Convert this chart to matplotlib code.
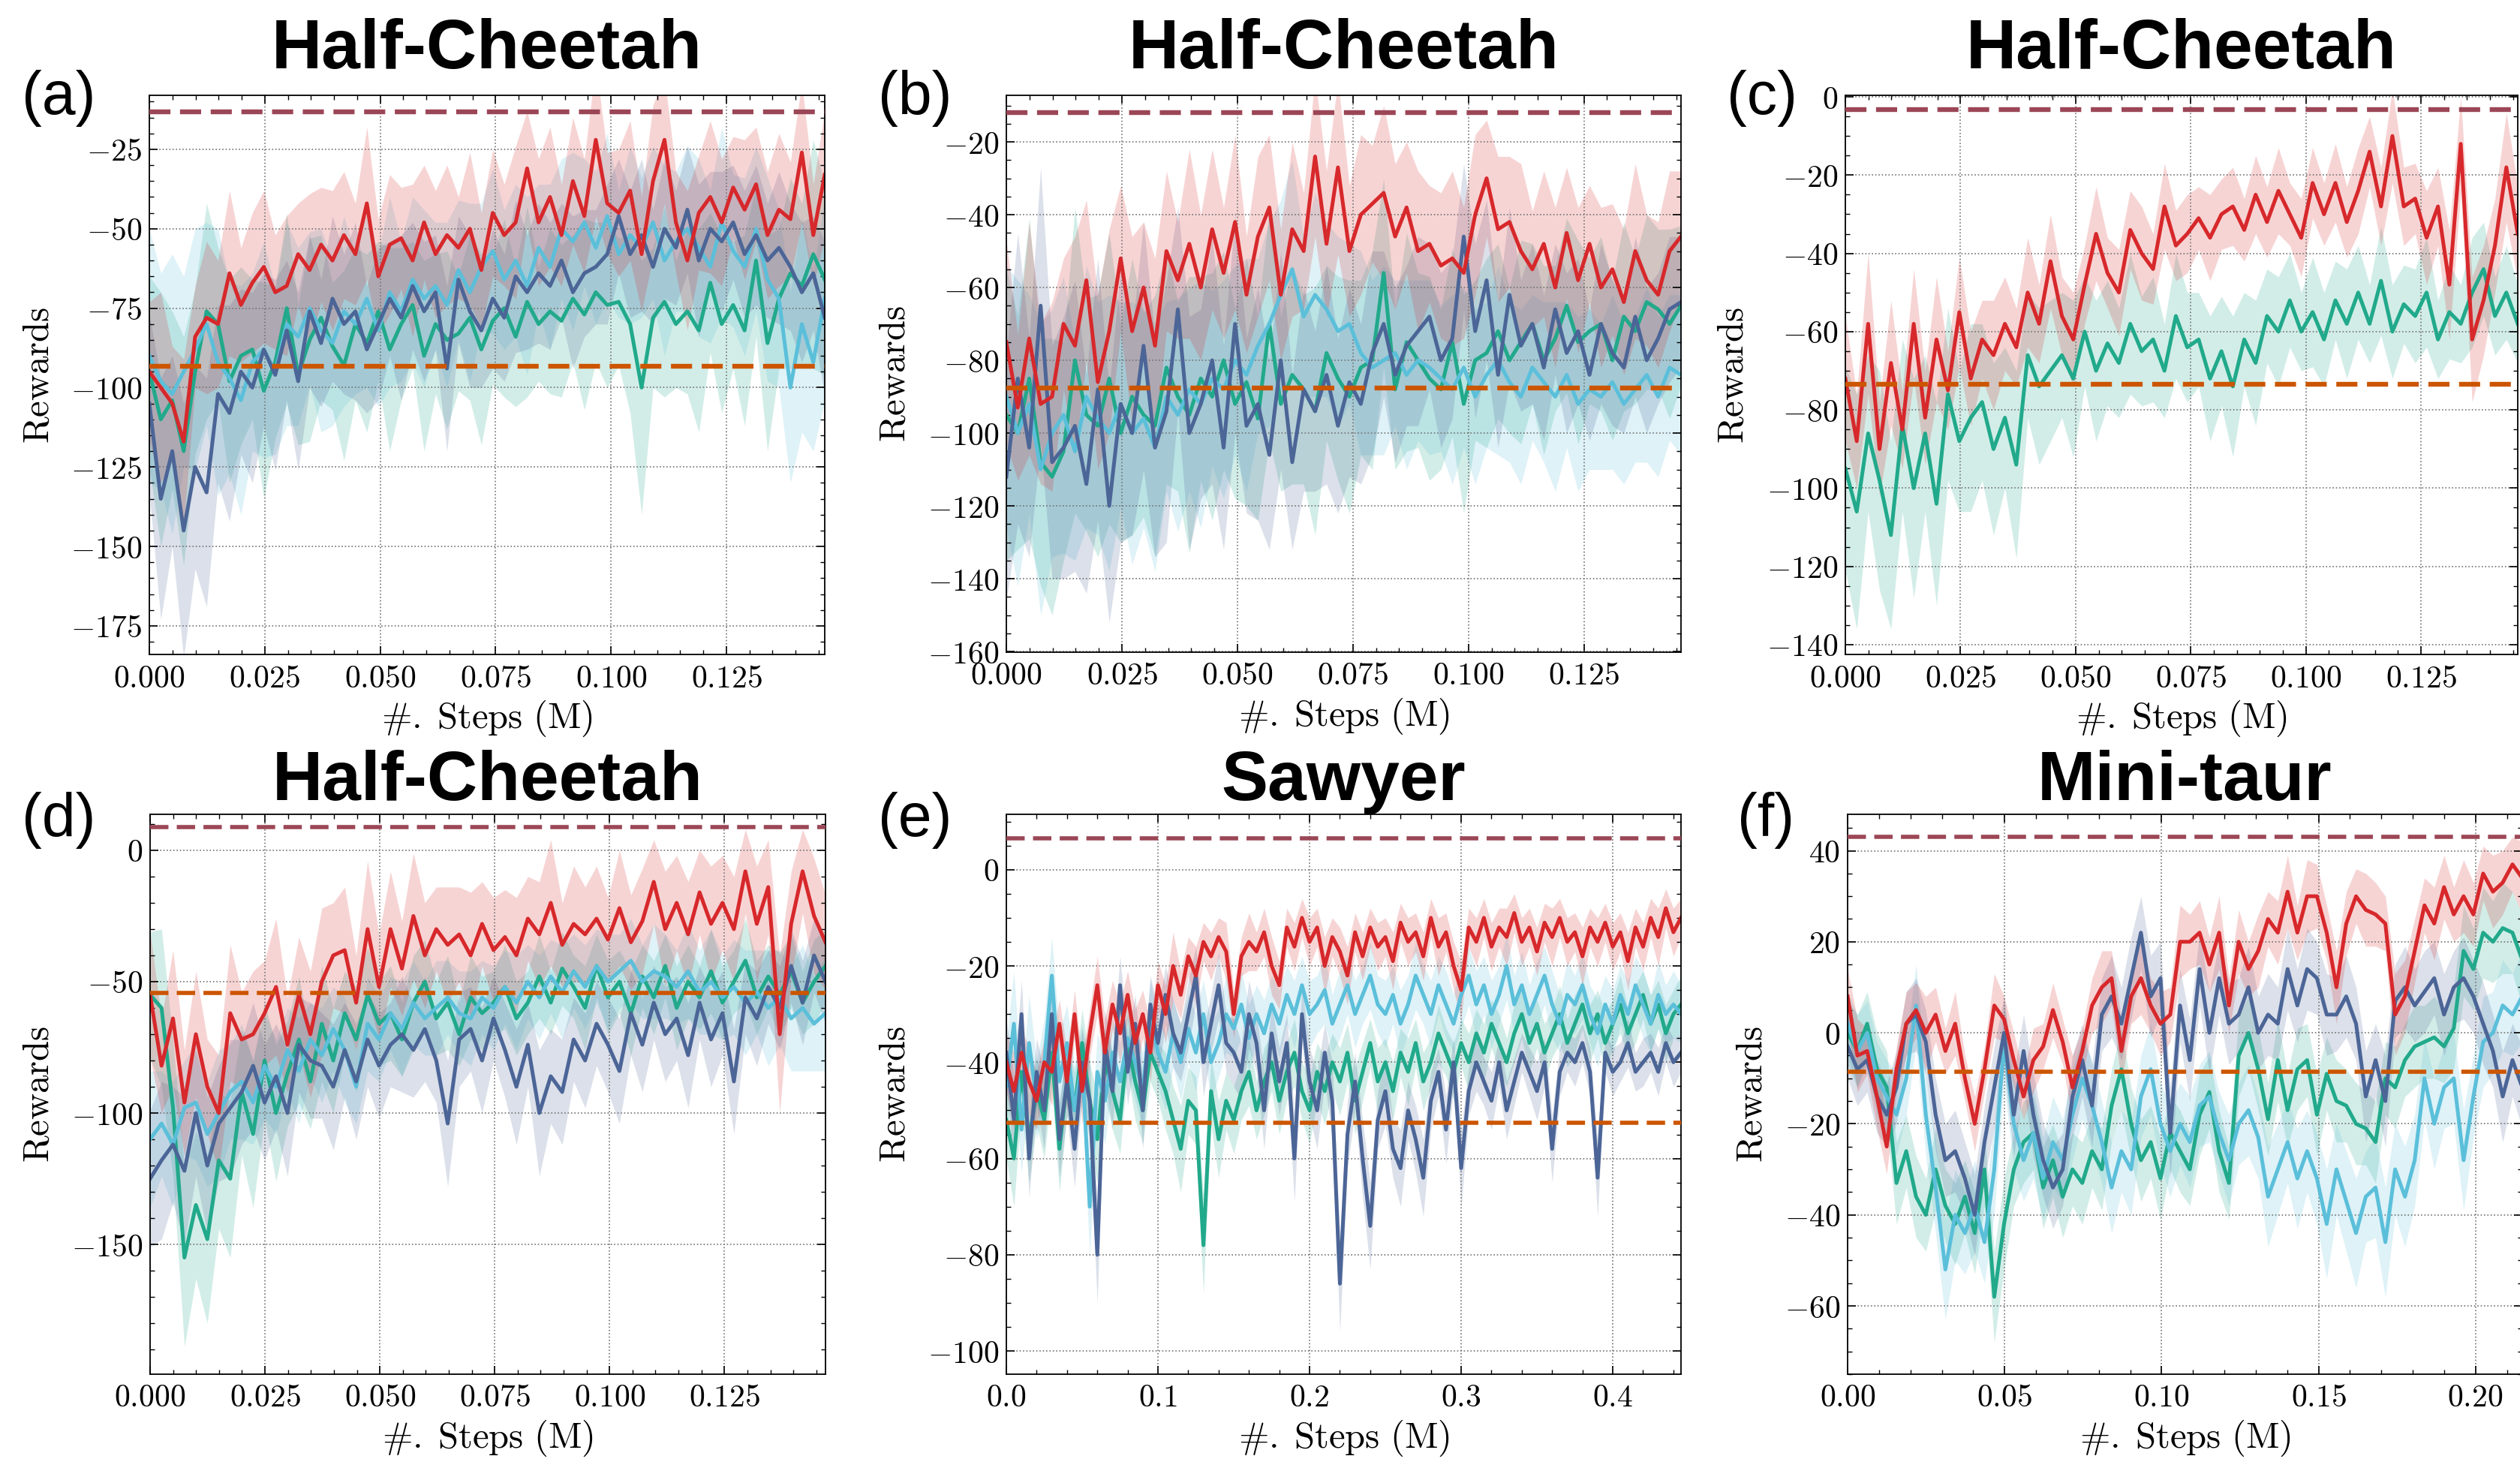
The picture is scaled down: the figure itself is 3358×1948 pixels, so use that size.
import numpy as np
import matplotlib.pyplot as plt
from matplotlib.ticker import MultipleLocator, FuncFormatter

plt.rcParams['mathtext.fontset'] = 'cm'
plt.rcParams['font.family'] = ['Liberation Sans', 'DejaVu Sans']

#### colours
RED = '#d7282b'
TEAL = '#21a98b'
LBLUE = '#5bbfda'
DBLUE = '#4c6597'
TOPC = '#9b4656'
ORNG = '#cc5500'

#### (a) Half-Cheetah
a_red = [-95, -100, -105, -117, -84, -78, -80, -64, -74, -67,
         -62, -70, -68, -58, -63, -55, -60, -52, -58, -42,
         -65, -55, -53, -60, -48, -58, -52, -56, -50, -63,
         -45, -52, -48, -31, -48, -40, -52, -35, -46, -22,
         -42, -45, -38, -58, -35, -22, -48, -60, -45, -40,
         -48, -37, -44, -36, -52, -44, -47, -26, -52, -33]
a_teal = [-95, -110, -104, -120, -95, -76, -80, -98, -90, -88,
          -101, -92, -75, -96, -85, -78, -87, -93, -80, -86,
          -76, -88, -80, -74, -90, -80, -85, -83, -78, -88,
          -79, -75, -84, -73, -80, -76, -79, -72, -77, -70,
          -74, -73, -80, -100, -78, -73, -80, -76, -82, -67,
          -80, -74, -82, -60, -86, -72, -64, -68, -58, -66]
a_lblue = [-90, -98, -102, -95, -88, -80, -92, -97, -104, -92,
           -88, -95, -80, -84, -75, -82, -86, -76, -80, -72,
           -82, -70, -76, -66, -72, -68, -74, -63, -70, -62,
           -57, -66, -60, -68, -56, -62, -50, -54, -48, -56,
           -46, -58, -52, -56, -48, -60, -54, -50, -56, -62,
           -48, -57, -62, -50, -66, -72, -100, -80, -92, -72]
a_dblue = [-105, -135, -120, -145, -125, -133, -102, -108, -95, -100,
           -88, -96, -82, -98, -76, -86, -72, -80, -76, -88,
           -80, -72, -78, -68, -76, -70, -94, -66, -76, -82,
           -72, -78, -65, -70, -64, -68, -60, -70, -64, -62,
           -58, -46, -58, -52, -62, -50, -56, -44, -60, -50,
           -54, -48, -58, -52, -60, -56, -62, -70, -64, -78]
a_red_sd = [22, 30, 18, 26, 16, 24, 20, 26, 18, 22,
            24, 18, 22, 16, 24, 18, 22, 20, 16, 24,
            18, 22, 16, 24, 18, 20, 22, 16, 24, 18,
            20, 16, 24, 18, 20, 22, 16, 20, 18, 24,
            16, 20, 22, 18, 24, 20, 16, 22, 18, 24,
            20, 16, 22, 18, 20, 24, 18, 22, 16, 20]
a_teal_sd = [30, 40, 28, 36, 26, 34, 24, 32, 28, 22,
             34, 24, 30, 22, 32, 26, 20, 30, 24, 28,
             22, 32, 24, 20, 30, 22, 28, 18, 26, 30,
             20, 28, 22, 30, 18, 26, 24, 20, 30, 22,
             26, 20, 28, 40, 22, 30, 20, 26, 32, 22,
             28, 20, 30, 24, 34, 22, 30, 26, 36, 30]
a_lblue_sd = [40, 34, 44, 30, 38, 32, 42, 30, 36, 28,
              34, 26, 32, 28, 24, 32, 26, 30, 22, 28,
              24, 30, 22, 26, 28, 20, 26, 22, 28, 20,
              26, 22, 24, 28, 20, 26, 22, 28, 20, 24,
              26, 20, 28, 22, 24, 30, 22, 26, 28, 24,
              30, 24, 28, 26, 32, 28, 30, 34, 28, 32]
a_dblue_sd = [28, 38, 30, 40, 32, 36, 28, 34, 26, 30,
              24, 30, 22, 28, 24, 20, 26, 22, 28, 20,
              24, 18, 26, 20, 22, 18, 26, 20, 24, 18,
              22, 20, 24, 18, 22, 20, 18, 24, 20, 18,
              22, 18, 20, 24, 18, 22, 18, 20, 24, 18,
              22, 18, 20, 22, 18, 24, 20, 22, 18, 24]

#### (b) Half-Cheetah
b_red = [-75, -93, -74, -92, -90, -70, -76, -58, -86, -72,
         -52, -72, -60, -76, -50, -58, -48, -60, -44, -56,
         -42, -62, -46, -38, -62, -44, -50, -24, -48, -27,
         -50, -40, -37, -34, -46, -38, -50, -48, -54, -52,
         -56, -40, -30, -44, -42, -50, -55, -48, -60, -45,
         -58, -48, -60, -55, -64, -50, -58, -62, -50, -46]
b_teal = [-95, -100, -85, -108, -112, -105, -80, -95, -98, -85,
          -100, -90, -95, -98, -82, -90, -95, -85, -90, -80,
          -92, -86, -96, -70, -92, -84, -88, -94, -78, -85,
          -90, -82, -80, -56, -88, -75, -80, -85, -88, -75,
          -92, -80, -78, -72, -80, -75, -70, -80, -74, -65,
          -75, -72, -70, -80, -68, -72, -64, -66, -70, -65]
b_lblue = [-90, -100, -92, -110, -100, -95, -105, -90, -96, -100,
           -92, -100, -96, -104, -90, -95, -88, -92, -85, -88,
           -80, -84, -76, -70, -62, -55, -68, -62, -66, -72,
           -70, -78, -82, -80, -78, -84, -80, -82, -85, -88,
           -82, -90, -84, -80, -86, -90, -82, -86, -90, -84,
           -92, -88, -90, -86, -92, -88, -84, -90, -82, -84]
b_dblue = [-112, -85, -104, -65, -108, -104, -98, -114, -88, -120,
           -92, -100, -76, -104, -94, -66, -100, -92, -80, -104,
           -70, -98, -92, -106, -80, -108, -88, -94, -84, -98,
           -86, -92, -78, -70, -84, -76, -72, -68, -80, -74,
           -46, -72, -58, -84, -62, -76, -70, -82, -66, -78,
           -72, -84, -70, -78, -82, -68, -80, -74, -66, -64]
b_red_sd = [28, 20, 32, 22, 26, 18, 30, 22, 24, 28,
            20, 26, 18, 24, 22, 16, 26, 20, 22, 18,
            24, 16, 22, 20, 18, 24, 16, 22, 20, 24,
            18, 22, 16, 24, 20, 18, 22, 16, 20, 24,
            18, 22, 16, 20, 18, 24, 16, 20, 22, 18,
            20, 16, 22, 18, 20, 24, 18, 20, 22, 18]
b_teal_sd = [40, 32, 44, 34, 38, 30, 42, 32, 36, 40,
             30, 38, 28, 36, 32, 26, 38, 28, 34, 30,
             26, 34, 28, 32, 24, 30, 26, 34, 24, 28,
             32, 24, 30, 26, 22, 30, 24, 28, 22, 26,
             30, 22, 26, 24, 20, 28, 22, 26, 20, 24,
             28, 20, 24, 22, 26, 20, 24, 22, 26, 22]
b_lblue_sd = [36, 42, 30, 40, 34, 38, 30, 36, 32, 38,
              28, 36, 30, 34, 26, 32, 28, 34, 24, 30,
              26, 32, 24, 28, 26, 30, 22, 28, 24, 26,
              22, 28, 24, 26, 20, 26, 22, 24, 20, 26,
              22, 24, 20, 26, 22, 24, 20, 22, 26, 20,
              24, 22, 20, 24, 22, 20, 24, 22, 20, 22]
b_dblue_sd = [34, 40, 30, 38, 32, 36, 40, 30, 36, 32,
              38, 28, 34, 30, 36, 28, 32, 26, 34, 28,
              30, 24, 32, 26, 30, 24, 28, 22, 30, 24,
              26, 22, 28, 20, 24, 22, 26, 20, 24, 22,
              20, 24, 22, 20, 24, 18, 22, 20, 18, 22,
              20, 18, 22, 20, 18, 22, 20, 18, 20, 18]

#### (c) Half-Cheetah
c_red = [-72, -88, -58, -90, -68, -85, -58, -82, -62, -75,
         -55, -72, -62, -66, -58, -64, -50, -58, -42, -56,
         -62, -48, -35, -45, -50, -34, -40, -44, -28, -38,
         -35, -31, -36, -30, -28, -34, -25, -32, -24, -30,
         -36, -22, -30, -22, -32, -24, -14, -28, -10, -28,
         -26, -36, -28, -48, -12, -62, -52, -38, -18, -35]
c_teal = [-95, -106, -86, -98, -112, -84, -100, -86, -104, -76,
          -88, -82, -78, -90, -82, -94, -66, -74, -70, -66,
          -72, -60, -70, -63, -68, -58, -65, -62, -70, -56,
          -64, -62, -72, -65, -74, -62, -68, -56, -60, -52,
          -60, -55, -62, -52, -58, -50, -58, -47, -60, -53,
          -56, -50, -62, -55, -58, -50, -44, -56, -50, -58]
c_red_sd = [16, 12, 18, 12, 16, 10, 14, 12, 16, 10,
            14, 12, 10, 14, 12, 10, 14, 10, 12, 10,
            12, 10, 12, 9, 11, 10, 12, 9, 11, 9,
            10, 8, 11, 9, 10, 8, 10, 9, 11, 8,
            10, 9, 8, 10, 9, 11, 9, 10, 12, 10,
            9, 12, 10, 14, 12, 16, 14, 12, 14, 12]
c_teal_sd = [26, 30, 20, 28, 24, 22, 28, 20, 26, 22,
             18, 24, 20, 22, 18, 24, 16, 20, 18, 16,
             20, 14, 18, 16, 14, 18, 14, 16, 12, 16,
             14, 12, 16, 14, 18, 12, 16, 12, 14, 12,
             10, 14, 12, 10, 14, 12, 10, 14, 12, 10,
             12, 14, 10, 12, 10, 14, 12, 10, 12, 10]

#### (d) Half-Cheetah
d_red = [-55, -82, -64, -96, -70, -90, -100, -62, -72, -70,
         -62, -52, -74, -55, -70, -50, -40, -38, -58, -30,
         -52, -30, -45, -25, -40, -30, -36, -32, -40, -28,
         -38, -33, -40, -26, -32, -20, -36, -28, -32, -26,
         -34, -22, -35, -27, -12, -30, -20, -32, -16, -28,
         -20, -30, -8, -28, -14, -70, -28, -8, -25, -35]
d_teal = [-55, -60, -98, -155, -135, -148, -118, -125, -92, -108,
          -80, -100, -85, -72, -88, -66, -80, -62, -72, -55,
          -66, -62, -72, -58, -50, -64, -58, -70, -56, -62,
          -58, -52, -64, -58, -48, -58, -45, -52, -60, -44,
          -56, -50, -62, -48, -56, -44, -60, -50, -56, -46,
          -58, -50, -42, -56, -48, -55, -46, -58, -50, -44]
d_lblue = [-110, -104, -112, -98, -96, -108, -100, -92, -88, -96,
           -82, -90, -76, -84, -72, -78, -68, -76, -90, -66,
           -72, -62, -68, -58, -64, -60, -56, -62, -64, -56,
           -60, -52, -58, -50, -56, -48, -54, -46, -52, -44,
           -50, -46, -42, -50, -46, -48, -52, -46, -54, -50,
           -56, -52, -58, -54, -60, -56, -64, -60, -66, -62]
d_dblue = [-125, -118, -112, -122, -100, -120, -104, -98, -92, -82,
           -96, -86, -100, -74, -80, -82, -90, -76, -88, -72,
           -82, -74, -70, -76, -68, -80, -104, -72, -68, -80,
           -64, -76, -90, -74, -100, -86, -92, -72, -80, -66,
           -74, -84, -62, -74, -58, -70, -64, -78, -58, -72,
           -62, -88, -56, -64, -52, -60, -44, -58, -40, -50]
d_red_sd = [24, 18, 26, 20, 24, 18, 22, 26, 18, 24,
            20, 26, 18, 22, 24, 28, 20, 24, 18, 26,
            20, 22, 18, 24, 20, 16, 22, 18, 24, 16,
            20, 18, 22, 16, 20, 24, 16, 22, 18, 20,
            16, 22, 18, 20, 16, 22, 18, 20, 16, 22,
            18, 20, 16, 22, 18, 30, 20, 16, 22, 18]
d_teal_sd = [24, 30, 26, 34, 28, 32, 26, 30, 24, 28,
             22, 26, 20, 24, 18, 22, 20, 16, 20, 18,
             16, 18, 14, 18, 16, 14, 18, 12, 16, 14,
             12, 16, 14, 12, 16, 12, 14, 12, 16, 12,
             14, 12, 16, 12, 14, 12, 16, 14, 12, 16,
             14, 12, 16, 14, 12, 16, 14, 12, 16, 14]
d_lblue_sd = [26, 20, 24, 18, 22, 20, 24, 18, 22, 16,
              20, 18, 16, 20, 14, 18, 16, 20, 14, 18,
              16, 14, 18, 16, 14, 18, 14, 16, 18, 14,
              16, 14, 18, 14, 16, 14, 18, 14, 16, 14,
              18, 14, 16, 14, 18, 16, 14, 18, 16, 20,
              16, 18, 20, 16, 22, 18, 20, 24, 18, 22]
d_dblue_sd = [26, 30, 22, 28, 24, 26, 22, 26, 20, 24,
              22, 20, 24, 18, 22, 20, 24, 18, 22, 18,
              20, 16, 22, 18, 20, 16, 24, 18, 16, 20,
              16, 18, 22, 16, 24, 18, 20, 16, 18, 16,
              18, 20, 16, 18, 14, 18, 16, 20, 14, 18,
              16, 20, 14, 18, 14, 16, 14, 16, 14, 16]

#### (e) Sawyer
e_red = [-40, -46, -38, -44, -48, -40, -42, -32, -44, -30,
         -46, -34, -24, -38, -28, -34, -26, -36, -30, -38,
         -24, -30, -20, -26, -18, -22, -15, -18, -14, -17,
         -30, -18, -15, -17, -13, -20, -24, -12, -16, -10,
         -15, -12, -20, -14, -17, -22, -13, -18, -12, -16,
         -14, -19, -11, -15, -13, -18, -10, -16, -13, -20,
         -25, -12, -15, -10, -16, -12, -14, -9, -15, -12,
         -17, -11, -14, -10, -15, -13, -18, -12, -15, -11,
         -16, -13, -19, -12, -16, -10, -14, -8, -13, -10]
e_teal = [-52, -60, -42, -56, -46, -52, -38, -58, -44, -50,
          -36, -48, -56, -40, -46, -52, -36, -44, -50, -38,
          -42, -46, -52, -58, -48, -50, -78, -46, -56, -48,
          -52, -46, -42, -50, -44, -40, -48, -42, -38, -46,
          -50, -42, -46, -40, -44, -38, -48, -42, -36, -44,
          -40, -46, -38, -42, -36, -44, -40, -34, -38, -42,
          -36, -40, -34, -38, -32, -36, -40, -34, -30, -36,
          -32, -38, -34, -30, -36, -32, -28, -34, -30, -36,
          -32, -28, -34, -30, -26, -32, -28, -34, -30, -28]
e_lblue = [-45, -32, -54, -36, -48, -40, -22, -44, -36, -50,
           -40, -70, -42, -48, -38, -44, -35, -40, -46, -30,
           -38, -42, -34, -40, -33, -38, -30, -40, -36, -30,
           -33, -28, -35, -30, -34, -28, -32, -26, -30, -24,
           -30, -28, -25, -32, -28, -24, -30, -26, -22, -28,
           -30, -26, -32, -28, -22, -26, -30, -24, -28, -32,
           -26, -22, -28, -24, -30, -26, -20, -28, -24, -30,
           -26, -22, -28, -32, -26, -28, -24, -30, -34, -28,
           -32, -26, -30, -24, -28, -32, -26, -30, -28, -30]
e_dblue = [-38, -52, -30, -60, -42, -50, -30, -56, -44, -58,
           -40, -48, -80, -36, -46, -24, -42, -32, -50, -28,
           -36, -26, -34, -38, -30, -22, -40, -32, -24, -36,
           -38, -42, -30, -36, -50, -34, -44, -36, -60, -30,
           -44, -50, -38, -48, -86, -55, -44, -60, -74, -52,
           -46, -58, -62, -50, -56, -64, -48, -42, -54, -40,
           -62, -46, -40, -44, -48, -40, -50, -44, -38, -42,
           -46, -40, -58, -42, -38, -40, -36, -42, -64, -38,
           -42, -40, -36, -42, -40, -38, -42, -36, -40, -38]
e_red_sd = [6, 8, 5, 7, 6, 5, 7, 5, 6, 5,
            7, 5, 6, 7, 5, 6, 5, 7, 5, 6,
            5, 6, 7, 5, 4, 6, 4, 5, 4, 6,
            5, 4, 6, 4, 5, 6, 5, 4, 5, 4,
            5, 4, 6, 4, 5, 6, 4, 5, 4, 5,
            4, 6, 4, 5, 4, 5, 4, 6, 4, 5,
            6, 4, 5, 4, 5, 4, 6, 4, 5, 4,
            5, 4, 6, 4, 5, 4, 6, 4, 5, 4,
            5, 4, 6, 4, 5, 4, 6, 4, 5, 4]
e_teal_sd = [8, 10, 7, 9, 7, 8, 7, 9, 7, 8,
             7, 8, 9, 7, 8, 7, 6, 8, 7, 6,
             6, 8, 7, 9, 7, 7, 10, 7, 8, 6,
             7, 6, 7, 6, 7, 6, 7, 6, 7, 6,
             7, 6, 7, 6, 7, 6, 7, 6, 5, 7,
             5, 6, 5, 7, 5, 6, 5, 6, 5, 6,
             5, 6, 5, 6, 5, 6, 5, 6, 5, 6,
             5, 6, 5, 6, 5, 6, 5, 6, 5, 6,
             5, 6, 5, 6, 5, 6, 5, 6, 5, 6]
e_lblue_sd = [9, 11, 9, 10, 8, 9, 8, 10, 8, 9,
              8, 10, 8, 9, 7, 8, 7, 8, 8, 7,
              7, 8, 7, 8, 7, 8, 7, 8, 7, 8,
              6, 7, 7, 6, 7, 6, 7, 6, 7, 6,
              7, 6, 7, 6, 7, 6, 7, 6, 7, 6,
              7, 6, 7, 6, 7, 6, 7, 6, 7, 6,
              7, 6, 7, 6, 7, 6, 7, 6, 7, 6,
              7, 6, 7, 6, 7, 6, 7, 6, 7, 6,
              7, 6, 7, 6, 7, 6, 7, 6, 7, 6]
e_dblue_sd = [7, 9, 7, 8, 7, 8, 7, 8, 7, 8,
              7, 8, 10, 7, 8, 6, 7, 6, 8, 6,
              7, 6, 7, 6, 7, 6, 7, 6, 7, 6,
              7, 6, 7, 6, 8, 6, 7, 6, 9, 6,
              7, 8, 6, 8, 10, 7, 6, 8, 9, 6,
              7, 6, 8, 6, 7, 8, 6, 5, 7, 5,
              8, 5, 6, 5, 6, 5, 6, 5, 4, 5,
              6, 5, 7, 5, 4, 5, 4, 5, 8, 4,
              5, 4, 5, 4, 5, 4, 5, 4, 5, 4]

#### (f) Mini-taur
f_red = [8, -5, -4, -14, -25, -8, 2, 5, 0, 4,
         -4, 2, -10, -20, -8, 6, 3, -6, -14, -6,
         -3, 5, -2, -12, -4, 6, 10, 12, -4, 8,
         12, 6, 2, 4, 20, 20, 22, 15, 22, 6,
         20, 14, 18, 25, 22, 31, 22, 30, 30, 22,
         10, 24, 30, 27, 26, 24, 4, 8, 18, 28,
         24, 32, 26, 30, 26, 35, 31, 33, 37, 34]
f_teal = [0, -4, 2, -8, -12, -33, -26, -36, -40, -30,
          -38, -42, -36, -44, -30, -58, -42, -30, -24, -22,
          -34, -28, -36, -30, -33, -26, -30, -16, -8, -20,
          -28, -24, -32, -22, -26, -30, -18, -13, -26, -33,
          -5, 0, -8, -19, -6, -17, -8, -6, -18, -9,
          -15, -16, -20, -21, -24, -10, -12, -6, -3, -2,
          -1, -3, 1, 18, 14, 22, 20, 23, 22, 16]
f_lblue = [2, -4, 0, -10, -14, -18, -10, 6, -18, -34,
           -52, -40, -44, -38, -46, -30, -2, -20, -28, -22,
           -32, -24, -28, -18, -10, -16, -24, -34, -26, -30,
           -14, -8, -20, -26, -20, -24, -16, -14, -22, -28,
           -20, -17, -23, -36, -30, -24, -32, -26, -32, -42,
           -30, -37, -44, -36, -34, -46, -30, -36, -28, -10,
           -20, -12, -10, -28, -14, -2, 0, 6, 4, 8]
f_dblue = [-3, -8, -6, -14, -18, -12, 2, 4, -2, -18,
           -28, -26, -32, -40, -24, -12, 0, -18, -4, -18,
           -28, -34, -30, -14, -6, -16, 4, 8, 2, 12,
           22, 8, 12, -22, 6, -6, 14, 0, 12, 2,
           4, 10, 0, 4, 2, 14, 6, 14, 12, 4,
           4, 8, 2, -14, -6, -15, 7, 10, 6, 9,
           12, 4, 10, 12, 8, 2, -4, -14, -6, -12]
f_red_sd = [6, 8, 5, 7, 6, 5, 7, 6, 8, 6,
            5, 7, 5, 6, 5, 7, 5, 6, 5, 7,
            5, 6, 5, 7, 5, 6, 8, 6, 7, 6,
            8, 6, 7, 6, 8, 6, 7, 6, 8, 6,
            7, 6, 8, 6, 7, 8, 6, 8, 7, 6,
            8, 7, 6, 8, 7, 6, 9, 8, 7, 6,
            8, 7, 6, 8, 7, 6, 8, 7, 6, 8]
f_teal_sd = [7, 8, 7, 8, 8, 9, 8, 9, 8, 9,
             8, 9, 8, 9, 8, 10, 10, 8, 9, 8,
             9, 8, 9, 8, 9, 8, 9, 8, 9, 8,
             9, 8, 9, 8, 9, 8, 9, 8, 9, 8,
             9, 8, 9, 8, 9, 8, 9, 8, 9, 8,
             9, 8, 9, 8, 9, 8, 9, 8, 9, 8,
             9, 8, 9, 10, 9, 10, 9, 10, 9, 10]
f_lblue_sd = [7, 8, 7, 8, 8, 9, 8, 9, 9, 10,
              11, 10, 9, 10, 9, 10, 9, 10, 9, 10,
              9, 10, 9, 10, 9, 10, 9, 10, 9, 10,
              9, 10, 9, 10, 9, 10, 9, 10, 9, 10,
              9, 10, 9, 11, 10, 9, 11, 9, 10, 12,
              10, 11, 12, 10, 11, 12, 10, 11, 10, 9,
              10, 9, 10, 11, 9, 10, 9, 10, 9, 10]
f_dblue_sd = [7, 8, 7, 8, 7, 8, 7, 8, 7, 8,
              8, 9, 8, 9, 8, 9, 8, 9, 8, 9,
              8, 9, 8, 9, 8, 9, 8, 9, 8, 9,
              8, 9, 8, 10, 8, 9, 8, 9, 8, 9,
              8, 9, 8, 9, 8, 9, 8, 9, 8, 9,
              8, 9, 8, 10, 8, 10, 8, 9, 8, 9,
              8, 9, 8, 9, 8, 9, 8, 10, 8, 9]

#### baselines (upper / lower dashed lines)
hi_lines = [-13.1, -12.0, -3.3, 8.9, 6.5, 43.1]
lo_lines = [-93.2, -87.7, -73.5, -54.3, -52.5, -8.6]
titles = ['Half-Cheetah', 'Half-Cheetah', 'Half-Cheetah', 'Half-Cheetah', 'Sawyer', 'Mini-taur']
tags = ['(a)', '(b)', '(c)', '(d)', '(e)', '(f)']

W, H = 3358, 1948
fig = plt.figure(figsize=(W / 100, H / 100), dpi=100, facecolor='white')

panels = [
    dict(box=(199, 127, 1099, 872), xmax=0.1463, ylim=(-184, -8), xt=(0.025, 0.005), yt=(25, 5),
         xdec=3, tag_xy=(29, 152), ylab=-0.138,
         series=[(a_teal, a_teal_sd, TEAL), (a_lblue, a_lblue_sd, LBLUE),
                 (a_dblue, a_dblue_sd, DBLUE), (a_red, a_red_sd, RED)]),
    dict(box=(1341, 127, 2240, 869), xmax=0.146, ylim=(-160.2, -7.2), xt=(0.025, 0.005), yt=(20, 5),
         xdec=3, tag_xy=(1170, 152), ylab=-0.139,
         series=[(b_teal, b_teal_sd, TEAL), (b_lblue, b_lblue_sd, LBLUE),
                 (b_dblue, b_dblue_sd, DBLUE), (b_red, b_red_sd, RED)]),
    dict(box=(2459, 127, 3355, 872), xmax=0.146, ylim=(-142.5, 0.4), xt=(0.025, 0.005), yt=(20, 5),
         xdec=3, tag_xy=(2301, 152), ylab=-0.141,
         series=[(c_teal, c_teal_sd, TEAL), (c_red, c_red_sd, RED)]),
    dict(box=(200, 1085, 1100, 1831), xmax=0.147, ylim=(-199.4, 13.7), xt=(0.025, 0.005), yt=(50, 10),
         xdec=3, tag_xy=(29, 1114), ylab=-0.139,
         series=[(d_teal, d_teal_sd, TEAL), (d_lblue, d_lblue_sd, LBLUE),
                 (d_dblue, d_dblue_sd, DBLUE), (d_red, d_red_sd, RED)]),
    dict(box=(1341, 1085, 2240, 1831), xmax=0.445, ylim=(-104.8, 11.5), xt=(0.1, 0.02), yt=(20, 5),
         xdec=1, tag_xy=(1170, 1114), ylab=-0.139,
         series=[(e_teal, e_teal_sd, TEAL), (e_lblue, e_lblue_sd, LBLUE),
                 (e_dblue, e_dblue_sd, DBLUE), (e_red, e_red_sd, RED)]),
    dict(box=(2462, 1085, 3361, 1831), xmax=0.2149, ylim=(-75, 48), xt=(0.05, 0.01), yt=(20, 5),
         xdec=2, tag_xy=(2315, 1114), ylab=-0.116,
         series=[(f_teal, f_teal_sd, TEAL), (f_lblue, f_lblue_sd, LBLUE),
                 (f_dblue, f_dblue_sd, DBLUE), (f_red, f_red_sd, RED)]),
]

for k, p in enumerate(panels):
    l, t, r, b = p['box']
    ax = fig.add_axes([l / W, 1 - b / H, (r - l) / W, (b - t) / H])

    # shaded band + mean curve for every method
    for mean, sd, col in p['series']:
        n = min(len(mean), len(sd))
        m = np.array(mean[:n], dtype=float)
        s = np.array(sd[:n], dtype=float)
        x = np.linspace(0, p['xmax'], n)
        ax.fill_between(x, m - s, m + s, color=col, alpha=0.2, linewidth=0)
        ax.plot(x, m, color=col, lw=3.6)

    dash_lw = 4.6 if k < 3 else 4.0
    ax.axhline(hi_lines[k], color=TOPC, lw=dash_lw, dashes=(4.4, 2.0), zorder=5)
    ax.axhline(lo_lines[k], color=ORNG, lw=dash_lw, dashes=(4.4, 2.0), zorder=5)

    ax.set_xlim(0, p['xmax'])
    ax.set_ylim(*p['ylim'])
    ax.xaxis.set_major_locator(MultipleLocator(p['xt'][0]))
    ax.xaxis.set_minor_locator(MultipleLocator(p['xt'][1]))
    ax.yaxis.set_major_locator(MultipleLocator(p['yt'][0]))
    ax.yaxis.set_minor_locator(MultipleLocator(p['yt'][1]))
    dec = p['xdec']
    ax.xaxis.set_major_formatter(FuncFormatter(lambda v, pos, d=dec: '$%.*f$' % (d, v)))
    ax.yaxis.set_major_formatter(FuncFormatter(lambda v, pos: '$%d$' % round(v)))

    ax.tick_params(which='both', direction='in', top=True, right=True, labelsize=30)
    ax.tick_params(which='major', length=8, width=1.2)
    ax.tick_params(which='minor', length=4.5, width=1.0)
    ax.tick_params(axis='x', pad=9)
    ax.tick_params(axis='y', pad=7)
    for sp in ax.spines.values():
        sp.set_linewidth(1.3)
    ax.grid(True, which='major', linestyle=':', color='0.45', linewidth=1.2)

    ax.set_xlabel(r'$\#.\;\mathrm{Steps\ (M)}$', fontsize=35)
    ax.xaxis.set_label_coords(0.5, -0.079)
    ax.set_ylabel(r'$\mathrm{Rewards}$', fontsize=35)
    ax.yaxis.set_label_coords(p['ylab'], 0.5)

    pad = 26 if k < 3 else 6
    ax.set_title(titles[k], fontsize=67, fontweight='bold', pad=pad)
    tx, ty = p['tag_xy']
    fig.text(tx / W, 1 - ty / H, tags[k], fontsize=58, ha='left', va='baseline')

plt.savefig('out.png', dpi=100, facecolor='white')
